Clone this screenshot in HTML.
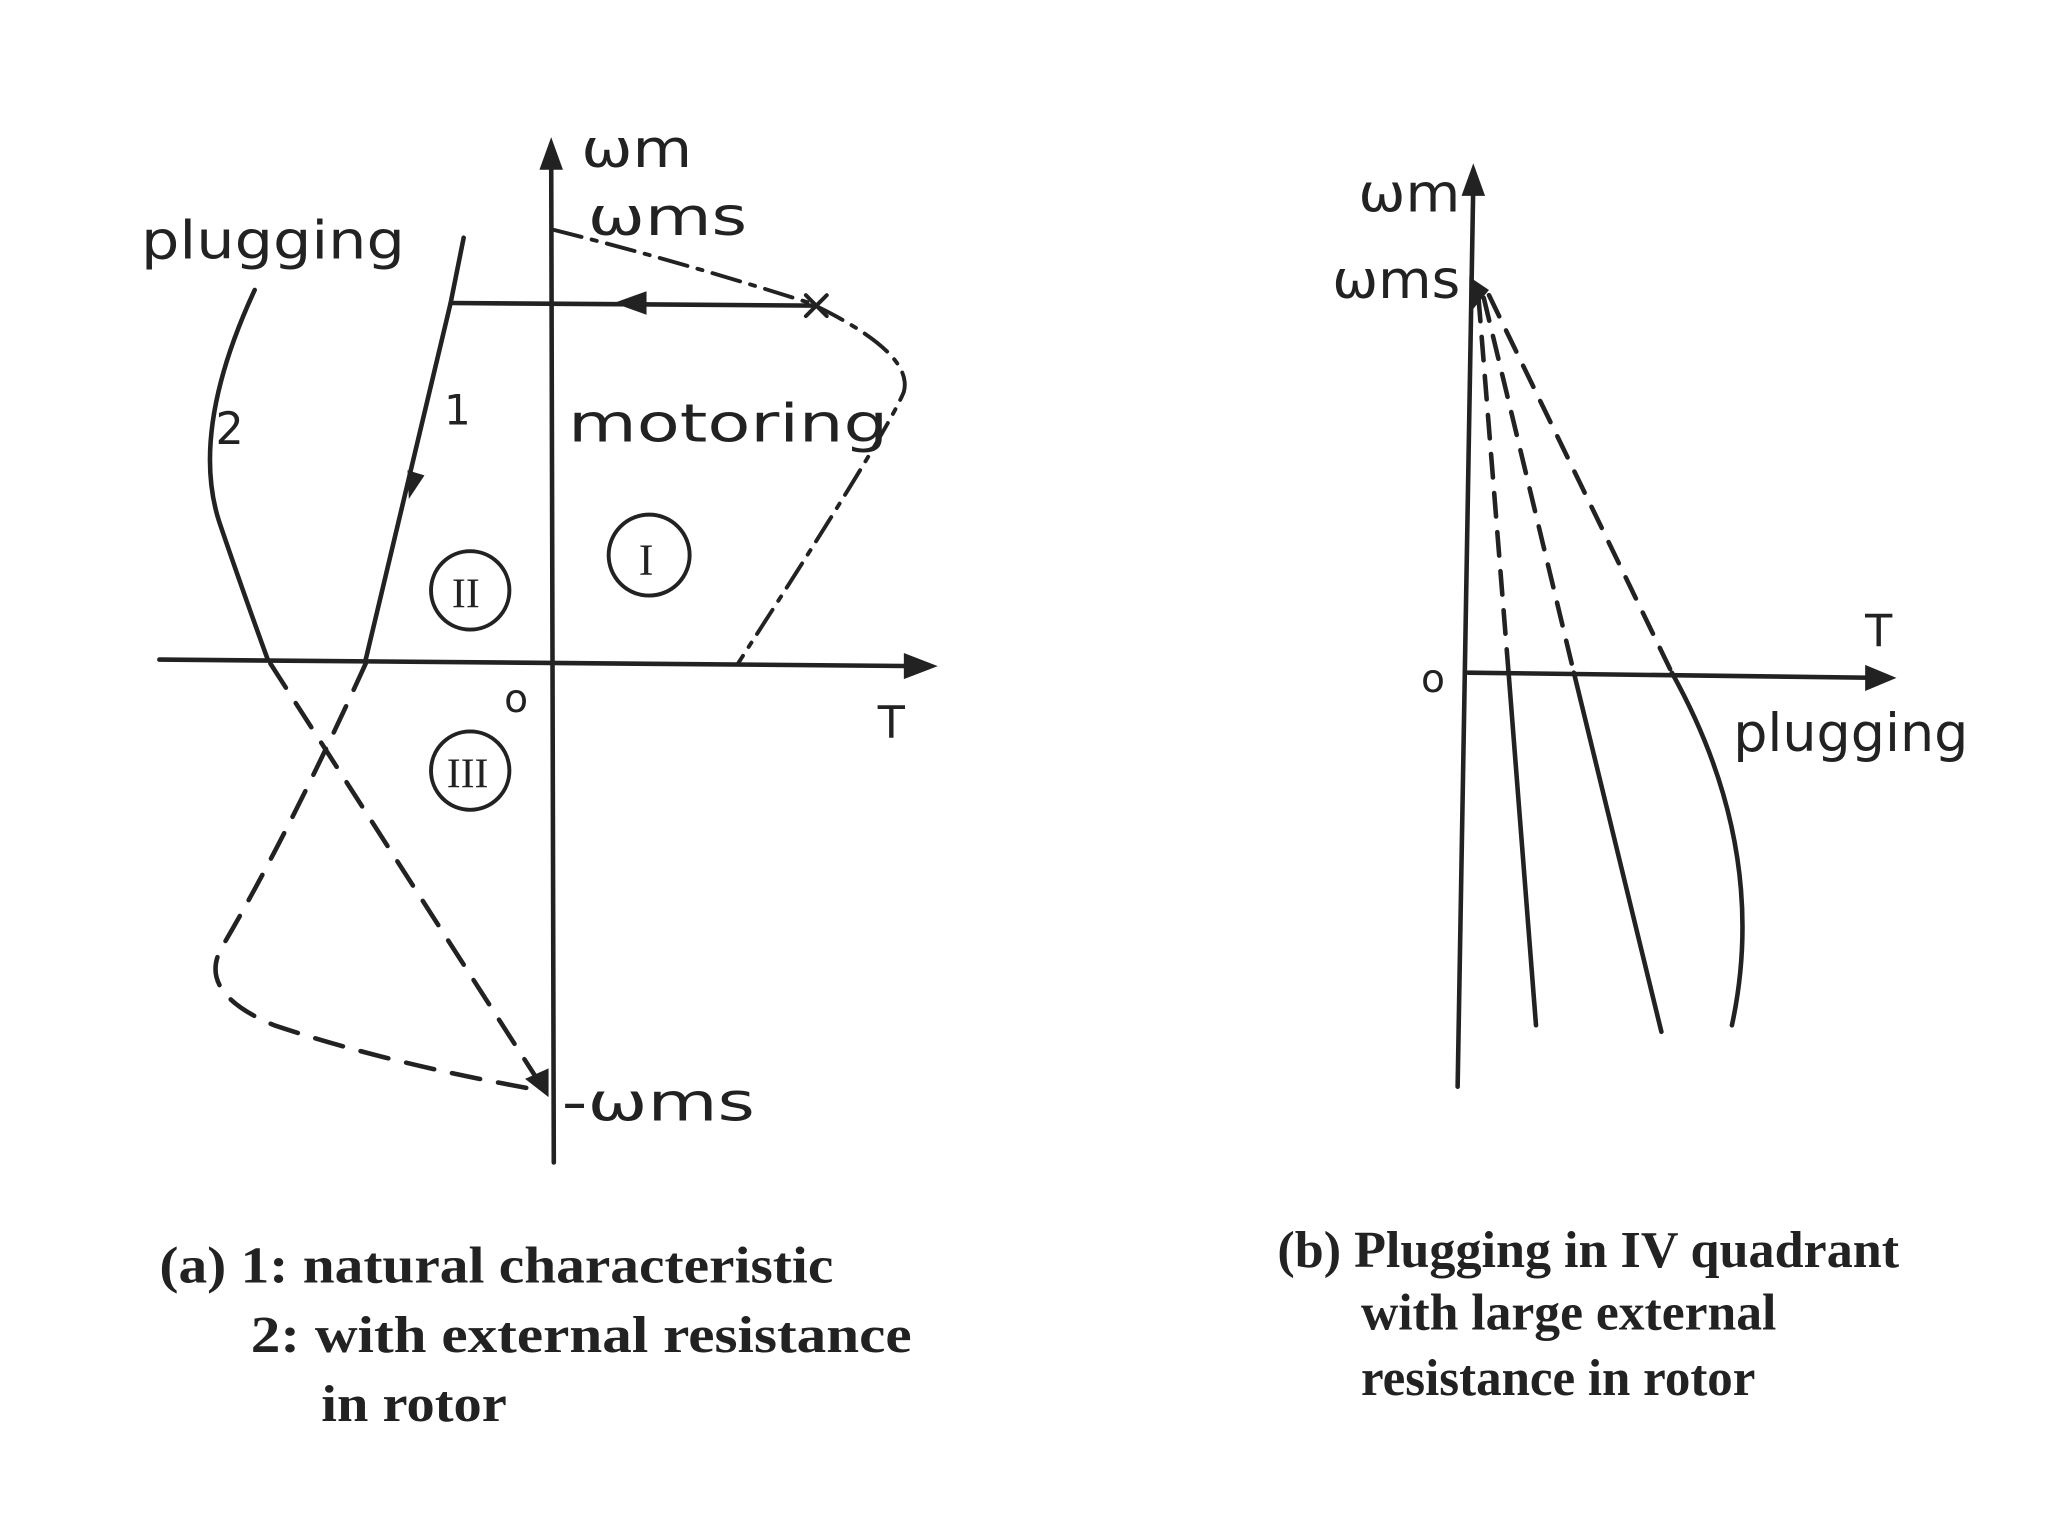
<!DOCTYPE html>
<html><head><meta charset="utf-8"><style>
html,body{margin:0;padding:0;background:#fff;}
svg{display:block;}
.t{font-family:"DejaVu Sans","Liberation Sans",sans-serif;fill:#222;}
.s{font-family:"Liberation Serif",serif;fill:#222;}
</style></head><body>
<svg width="2048" height="1536" viewBox="0 0 1568 1176" xmlns="http://www.w3.org/2000/svg">
<rect width="1568" height="1176" fill="#fff"/>
<g stroke="#222" fill="none" stroke-width="3.5" stroke-linecap="round">
<line x1="424" y1="890" x2="422" y2="115"/>
<line x1="122" y1="505" x2="705" y2="510"/>
<path d="M424,176 Q520,200 620,232 Q700,270 692,300 Q680,330 565,508" stroke-dasharray="22,8,4,8" stroke-width="3"/>
<line x1="345" y1="232" x2="625" y2="234"/>
<path d="M617,226 L633,242 M633,226 L617,242" stroke-width="3"/>
<path d="M355,182 L345,232 L280,505"/>
<path d="M195,222 Q145,330 168,400 Q185,450 205,505"/>
<path d="M207,508 L415,832" stroke-dasharray="22,14"/>
<path d="M280,508 Q220,640 170,725 Q150,760 210,785 Q300,815 415,835" stroke-dasharray="22,14"/>
<circle cx="360" cy="452" r="30" stroke-width="3"/>
<circle cx="497" cy="425" r="31" stroke-width="3"/>
<circle cx="360" cy="590" r="30" stroke-width="3"/>
<line x1="1116" y1="832" x2="1128" y2="140"/>
<line x1="1124" y1="515" x2="1440" y2="519"/>
<path d="M1132,228 L1155,515" stroke-dasharray="18,12"/>
<path d="M1155,515 L1176,785"/>
<path d="M1136,228 L1205,515" stroke-dasharray="18,12"/>
<path d="M1205,515 L1272,790"/>
<path d="M1140,226 L1280,515" stroke-dasharray="18,12"/>
<path d="M1280,515 Q1355,650 1326,785"/>
</g>
<g fill="#222">
<polygon points="422,105 413,130 431,130"/>
<polygon points="718,510 692,500 692,520"/>
<polygon points="470,232 495,223 495,241"/>
<polygon points="313,382 312,360 325,364"/>
<polygon points="420,840 402,826 420,818"/>
<polygon points="1128,125 1119,150 1137,150"/>
<polygon points="1452,519 1428,509 1428,529"/>
<polygon points="1125,212 1140,222 1125,240"/>
</g>
<g class="t">
<text x="445" y="128" font-size="40" textLength="85" lengthAdjust="spacingAndGlyphs">ωm</text>
<text x="450" y="180" font-size="40" textLength="122" lengthAdjust="spacingAndGlyphs">ωms</text>
<text x="108" y="198" font-size="40" textLength="202" lengthAdjust="spacingAndGlyphs">plugging</text>
<text x="435" y="338" font-size="40" textLength="245" lengthAdjust="spacingAndGlyphs">motoring</text>
<text x="340" y="325" font-size="32">1</text>
<text x="165" y="340" font-size="34">2</text>
<text x="672" y="565" font-size="34">T</text>
<text x="386" y="545" font-size="30">o</text>
<text x="430" y="858" font-size="40" textLength="148" lengthAdjust="spacingAndGlyphs">-ωms</text>
<text x="346" y="465" font-size="32" class="s">II</text>
<text x="489" y="440" font-size="34" class="s">I</text>
<text x="342" y="603" font-size="32" class="s">III</text>
<text x="1040" y="162" font-size="40" textLength="78" lengthAdjust="spacingAndGlyphs">ωm</text>
<text x="1020" y="228" font-size="40" textLength="98" lengthAdjust="spacingAndGlyphs">ωms</text>
<text x="1088" y="530" font-size="30">o</text>
<text x="1428" y="495" font-size="34">T</text>
<text x="1327" y="575" font-size="40" textLength="180" lengthAdjust="spacingAndGlyphs">plugging</text>
</g>
<g class="s" font-size="40" font-weight="bold">
<text x="122" y="982" textLength="516" lengthAdjust="spacingAndGlyphs">(a) 1: natural characteristic</text>
<text x="192" y="1035" textLength="506" lengthAdjust="spacingAndGlyphs">2: with external resistance</text>
<text x="246" y="1088" textLength="142" lengthAdjust="spacingAndGlyphs">in rotor</text>
<text x="978" y="970" textLength="476" lengthAdjust="spacingAndGlyphs">(b) Plugging in IV quadrant</text>
<text x="1042" y="1018" textLength="318" lengthAdjust="spacingAndGlyphs">with large external</text>
<text x="1042" y="1068" textLength="302" lengthAdjust="spacingAndGlyphs">resistance in rotor</text>
</g>
</svg>
</body></html>
